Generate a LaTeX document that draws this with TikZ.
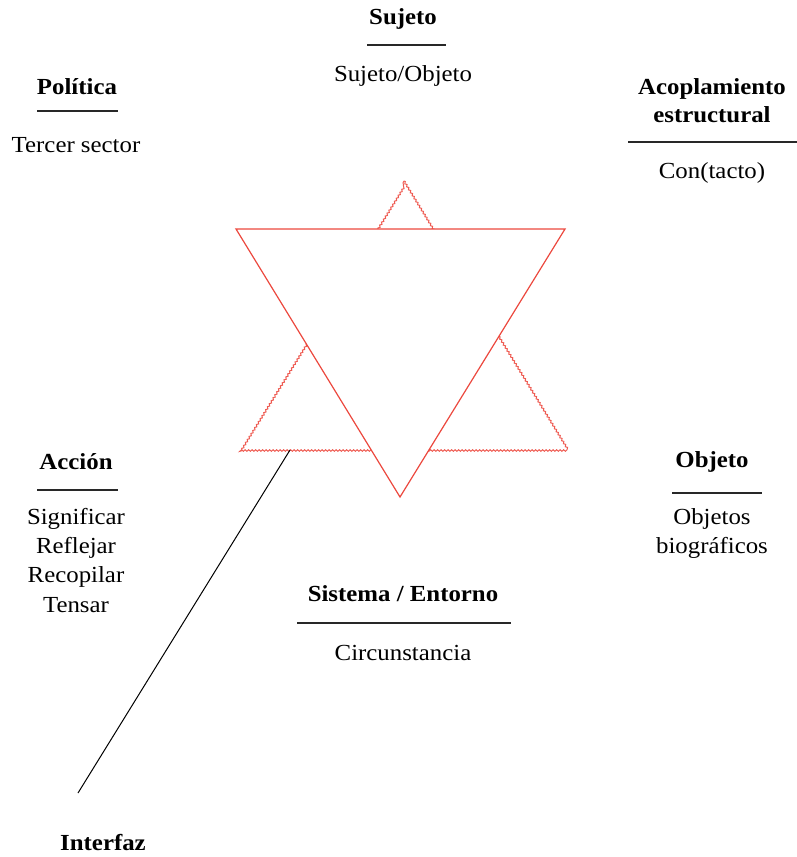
\documentclass[tikz,border=0pt]{standalone}
\usepackage{fontspec}
\setmainfont[FakeStretch=1.08]{Liberation Serif}
\usetikzlibrary{decorations.pathmorphing}
\definecolor{starred}{RGB}{236,72,62}
\definecolor{rulegray}{RGB}{40,40,40}
\tikzset{
  lbl/.style={inner sep=0pt, font=\fontsize{23}{28}\selectfont},
  hd/.style={lbl, font=\fontsize{23}{28}\selectfont\bfseries},
  hrule/.style={draw=rulegray, line width=1.3pt},
  solidtri/.style={draw=starred, line width=1.2pt, fill=white, line join=miter},
  wavytri/.style={draw=starred!90, line width=1pt, decorate,
    decoration={snake, amplitude=0.8pt, segment length=3.5pt}},
  link/.style={draw=black, line width=1pt}
}
\begin{document}
\begin{tikzpicture}[x=1pt,y=-1pt]
\useasboundingbox (0,0) rectangle (797,857);
% star
\coordinate (ua) at (404,181);
\coordinate (ul) at (239,448);
\coordinate (ur) at (567,448);
\coordinate (dl) at (236,229);
\coordinate (dr) at (565,229);
\coordinate (db) at (400,497);
\draw[wavytri] (ua) -- (ur) -- (ul) -- (ua);
\draw[solidtri] (dl) -- (dr) -- (db) -- cycle;
% Sujeto
\node[hd] (suj) at (403,19) {Sujeto};
\draw[hrule] (367,45) coordinate (sujl) -- (446,45) coordinate (sujr);
\node[lbl] (sujo) at (403,76) {Sujeto/Objeto};
% Politica
\node[hd] (pol) at (77,87) {Política};
\draw[hrule] (37,111) coordinate (poll) -- (118,111) coordinate (polr);
\node[lbl] (ter) at (76,145) {Tercer sector};
% Acoplamiento
\node[hd, align=center, font=\fontsize{23}{28}\selectfont\bfseries] (aco) at (712,101) {Acoplamiento\\estructural};
\draw[hrule] (628,142) coordinate (acol) -- (797,142) coordinate (acor);
\node[lbl] (con) at (712,173) {Con(tacto)};
% Accion
\node[hd] (acc) at (76,462) {Acción};
\draw[hrule] (37,490) coordinate (accl) -- (118,490) coordinate (accr);
\node[lbl] (s1) at (76,519) {Significar};
\node[lbl] (s2) at (76,548) {Reflejar};
\node[lbl] (s3) at (76,577) {Recopilar};
\node[lbl] (s4) at (76,605) {Tensar};
% Objeto
\node[hd] (obj) at (712,462) {Objeto};
\draw[hrule] (672,493) coordinate (objl) -- (762,493) coordinate (objr);
\node[lbl] (o1) at (712,519) {Objetos};
\node[lbl] (o2) at (712,548) {biográficos};
% Sistema
\node[hd] (sis) at (403,594) {Sistema / Entorno};
\draw[hrule] (297,623) coordinate (sisl) -- (511,623) coordinate (sisr);
\node[lbl] (cir) at (403,653) {Circunstancia};
% Interfaz
\coordinate (ls) at (290,450);
\coordinate (le) at (78,793);
\draw[link] (ls) -- (le);
\node[hd] (int) at (103,843) {Interfaz};
\end{tikzpicture}
\end{document}
